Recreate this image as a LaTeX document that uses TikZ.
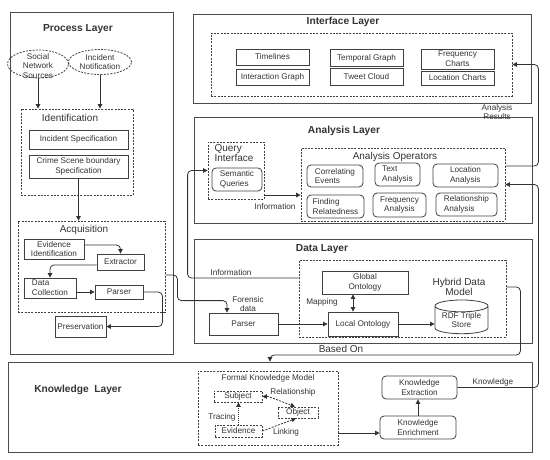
\documentclass[tikz,border=0pt]{standalone}
\usepackage{fontspec}
\setmainfont{Liberation Sans}
\usetikzlibrary{arrows.meta,shapes.geometric}
\newcommand\FtSmall{\fontsize{8.2}{9.6}\selectfont}
\newcommand\FtMed{\fontsize{10}{10.6}\selectfont}
\newcommand\FtTitle{\fontsize{10.2}{12}\selectfont\bfseries}
\begin{document}
\begin{tikzpicture}[x=1pt,y=-1pt,
  every node/.style={text=black!80, inner sep=0pt},
  layer/.style={draw=black!70, line width=0.8pt},
  dbox/.style={draw=black!75, line width=0.8pt, dash pattern=on 2pt off 1.3pt},
  sbox/.style={draw=black!75, line width=0.8pt, font=\FtSmall, align=center},
  lbox/.style={sbox, align=left},
  rbox/.style={sbox, rounded corners=4pt},
  rlbox/.style={rbox, align=left},
  small/.style={font=\FtSmall, align=center},
  med/.style={font=\FtMed, align=center},
  ttl/.style={font=\FtTitle},
  arr/.style={draw=black!80, line width=0.8pt, rounded corners=4pt, -{Triangle[length=4.5pt,width=4.5pt]}},
  darr/.style={draw=black!80, line width=0.8pt, {Triangle[length=4.5pt,width=4.5pt]}-{Triangle[length=4.5pt,width=4.5pt]}}
]
\useasboundingbox (0,0) rectangle (550,459);

% ---------------- layers
\node[layer, minimum width=163pt, minimum height=342pt] (procL) at (91.5,183) {};
\node[layer, minimum width=338pt, minimum height=89pt] (intL) at (362,58.5) {};
\node[layer, minimum width=338pt, minimum height=106pt] (anaL) at (363,170) {};
\node[layer, minimum width=338pt, minimum height=104pt] (dataL) at (363,291) {};
\node[layer, minimum width=524pt, minimum height=90pt] (knowL) at (270,407) {};

\node[ttl] (procT) at (78,29) {Process Layer};
\node[ttl] (intT) at (343,22) {Interface Layer};
\node[ttl] (anaT) at (344,131) {Analysis Layer};
\node[ttl] (dataT) at (322,249) {Data Layer};
\node[ttl] (knowT) at (78,390) {Knowledge\ \ Layer};

% ---------------- process layer
\node[dbox, ellipse, minimum width=61pt, minimum height=28pt] (soc) at (38,64) {};
\node[small] (socT) at (38,66) {Social\\Network\\Sources};
\node[dbox, ellipse, minimum width=63pt, minimum height=25pt] (inc) at (100,62) {};
\node[small] (incT) at (100,62) {Incident\\Notification};

\node[dbox, minimum width=112pt, minimum height=86pt] (idBox) at (77,152) {};
\node[med] (idT) at (70,117.5) {Identification};
\node[sbox, minimum width=99pt, minimum height=19pt] (incSpec) at (78.5,139.5) {Incident Specification};
\node[sbox, minimum width=99pt, minimum height=23pt] (crime) at (78.5,166.5) {Crime Scene boundary\\Specification};

\node[dbox, minimum width=147pt, minimum height=91pt] (acqBox) at (91.5,266.5) {};
\node[med] (acqT) at (84,230) {Acquisition};
\node[sbox, minimum width=60pt, minimum height=20pt] (evid) at (54,249) {Evidence\\Identification};
\node[sbox, minimum width=47pt, minimum height=16pt] (extr) at (120.5,262) {Extractor};
\node[lbox, minimum width=52pt, minimum height=20pt] (dcoll) at (50,288) {Data\\Collection};
\node[sbox, minimum width=48pt, minimum height=14pt] (parser1) at (119,292) {Parser};
\node[sbox, minimum width=51pt, minimum height=21pt] (pres) at (80.5,326.5) {Preservation};

\draw[arr] (soc.south) -- (soc.south |- idBox.north);
\draw[arr] (inc.south) -- (inc.south |- idBox.north);
\draw[arr] (crime.south) -- (crime.south |- acqBox.north);
\draw[arr] ([yshift=4pt]evid.east) -| (extr.north);
\draw[arr] ([yshift=-3pt]extr.west) -| (dcoll.north);
\draw[arr] (dcoll.east |- parser1.west) -- (parser1.west);
\draw[arr] (parser1.east) -- ++(19,0) |- (pres.east);

% ---------------- interface layer
\node[dbox, minimum width=301pt, minimum height=63pt] (intDash) at (361.5,64.5) {};
\node[sbox, minimum width=73pt, minimum height=16pt] (timel) at (272.5,57) {Timelines};
\node[sbox, minimum width=73pt, minimum height=16pt] (interG) at (272.5,77) {Interaction Graph};
\node[sbox, minimum width=73pt, minimum height=17pt] (tempG) at (366.5,58) {Temporal Graph};
\node[sbox, minimum width=73pt, minimum height=17pt] (tweet) at (366.5,77) {Tweet Cloud};
\node[sbox, minimum width=73pt, minimum height=20pt] (freqC) at (457.5,59) {Frequency\\Charts};
\node[sbox, minimum width=73pt, minimum height=14pt] (locC) at (457.5,78) {Location Charts};
\node[small] (resT) at (497,112) {Analysis\\Results};

% ---------------- analysis layer
\node[dbox, minimum width=56pt, minimum height=57pt] (qiDash) at (236,170.5) {};
\node[med, align=left] (qiT) at (234,153) {Query\\Interface};
\node[rlbox, minimum width=50pt, minimum height=23pt] (semq) at (237,179.5) {Semantic\\Queries};
\node[dbox, minimum width=204pt, minimum height=73pt] (aoDash) at (403,184.5) {};
\node[med] (aoT) at (395,157) {Analysis Operators};
\node[rlbox, minimum width=56pt, minimum height=22pt] (corr) at (335,176) {Correlating\\Events};
\node[rlbox, minimum width=45pt, minimum height=23pt] (textA) at (397.5,174.5) {Text\\Analysis};
\node[rlbox, minimum width=65pt, minimum height=23pt] (locA) at (465.5,175.5) {Location\\Analysis};
\node[rlbox, minimum width=57pt, minimum height=23pt] (findR) at (335.5,206.5) {Finding\\Relatedness};
\node[rbox, minimum width=53pt, minimum height=24pt] (freqA) at (399.5,205) {Frequency\\Analysis};
\node[rlbox, minimum width=61pt, minimum height=23pt] (relA) at (466.5,204.5) {Relationship\\Analysis};

\coordinate (q1) at ([yshift=-24.5pt]qiDash.east);
\draw[arr] (q1) -- (q1 -| aoDash.west);
\node[small] (infoT2) at (275,207) {Information};
\draw[arr] ([yshift=18.5pt]aoDash.east) -- ++(33,0) |- (intDash.east);

% ---------------- data layer
\node[dbox, minimum width=207pt, minimum height=77pt] (hybDash) at (402.5,298.5) {};
\node[med] (hybT) at (459,287) {Hybrid Data\\Model};
\node[sbox, minimum width=86pt, minimum height=23pt] (glob) at (365,282.5) {Global\\Ontology};
\node[sbox, minimum width=70pt, minimum height=24pt] (local) at (363,324) {Local Ontology};
\node[draw=black!75, line width=0.8pt, cylinder, shape border rotate=90, aspect=0.3,
      minimum width=53pt, minimum height=26pt, font=\FtSmall, align=center] (rdf) at (461.5,320) {RDF Triple\\Store};
\node[sbox, minimum width=69pt, minimum height=22pt] (parser2) at (243.5,324) {Parser};
\node[small] (forT) at (248,304) {Forensic\\data};
\node[small] (mapT) at (322,302) {Mapping};
\node[small] (infoT1) at (231,273) {Information};

\coordinate (g1) at ([xshift=-12pt]glob.south);
\draw[darr] (g1) -- (g1 |- local.north);
\draw[arr] (local.east) -- (local.east -| rdf.west);
\draw[arr] (parser2.east) -- (local.west);
\coordinate (p2) at ([xshift=-16.5pt]parser2.north);
\draw[arr] ([yshift=-8.5pt]acqBox.east) -- ++(12,0) |- ([yshift=12pt]p2) -- (p2);
\draw[arr] ([yshift=20.5pt]hybDash.west) -- ++(-111,0) |- (qiDash.west);

\coordinate (k1) at (270,355);
\draw[arr] ([yshift=11.5pt]hybDash.east) -- ++(14,0) |- (k1) -- (k1 |- knowL.north);
\node[med] (basedT) at (341,349) {Based On};

% ---------------- knowledge layer
\node[dbox, minimum width=140pt, minimum height=74pt] (fkm) at (268,408) {};
\node[small] (fkmT) at (268,378) {Formal Knowledge Model};
\node[dbox, minimum width=48pt, minimum height=11pt, font=\FtSmall] (subj) at (238,396.5) {Subject};
\node[dbox, minimum width=40pt, minimum height=11pt, font=\FtSmall] (obj) at (298,412.5) {Object};
\node[dbox, minimum width=47pt, minimum height=12pt, font=\FtSmall] (evidK) at (238.5,431) {Evidence};
\node[small] (relT) at (293,392) {Relationship};
\node[small] (traT) at (222,417) {Tracing};
\node[small] (linkT) at (286,432) {Linking};
\draw[darr, dash pattern=on 2pt off 1.3pt] (subj.east) -- ++(6,0) -- ([xshift=-3pt]obj.north);
\draw[arr, dash pattern=on 1pt off 1pt] (evidK.north) -- (evidK.north |- subj.south);
\draw[arr, dash pattern=on 2pt off 1.3pt] (evidK.east) -- ([xshift=-2pt]obj.south);

\node[rbox, minimum width=75pt, minimum height=23pt] (kext) at (419.5,387.5) {Knowledge\\Extraction};
\node[rbox, minimum width=76pt, minimum height=23pt] (kenr) at (418,427.5) {Knowledge\\Enrichment};
\coordinate (f1) at ([yshift=-25pt]fkm.east);
\draw[arr] (f1) -- (f1 -| kenr.west);
\draw[arr] (kenr.north) -- (kenr.north |- kext.south);
\draw[arr] (kext.east) -- ++(81,0) |- (aoDash.east);
\node[small] (knT) at (493,382) {Knowledge};
\end{tikzpicture}
\end{document}
